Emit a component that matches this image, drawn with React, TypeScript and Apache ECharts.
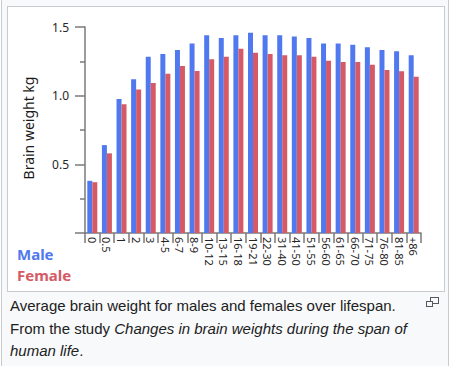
import React, { useEffect, useRef } from "react";
import * as echarts from "echarts";

const categories = ["0", "0.5", "1", "2", "3", "4-5", "6-7", "8-9", "10-12", "13-15", "16-18", "19-21", "22-30", "31-40", "41-50", "51-55", "56-60", "61-65", "66-70", "71-75", "76-80", "81-85", "+86"];
const maleValues = [0.38, 0.64, 0.976, 1.12, 1.284, 1.304, 1.333, 1.379, 1.44, 1.42, 1.44, 1.459, 1.44, 1.44, 1.43, 1.42, 1.38, 1.38, 1.371, 1.352, 1.333, 1.323, 1.294];
const femaleValues = [0.37, 0.58, 0.937, 1.044, 1.092, 1.16, 1.216, 1.18, 1.265, 1.284, 1.342, 1.313, 1.304, 1.294, 1.294, 1.284, 1.255, 1.245, 1.245, 1.226, 1.187, 1.178, 1.138];
const seriesNames = ["Male", "Female"];
const yAxisTitle = "Brain weight kg";
const captionLine1 = "Average brain weight for males and females over lifespan.";
const captionLine2Plain = "From the study ";
const captionLine2Italic = "Changes in brain weights during the span of";
const captionLine3Italic = "human life";

const BLUE = "#5079f0";
const RED = "#d55a66";
const AXIS = "#7a7a7a";
const FONT = "'Noto Sans', sans-serif";

export default function App() {
  const ref = useRef<HTMLDivElement>(null);

  useEffect(() => {
    if (!ref.current) return;
    const chart = echarts.init(ref.current, undefined, { renderer: "svg" });
    chart.setOption({
      animation: false,
      grid: { left: 85, right: 29, top: 27, bottom: 133, containLabel: false },
      xAxis: {
        type: "category",
        data: categories,
        axisLine: { lineStyle: { color: AXIS, width: 1.5 } },
        axisTick: { show: true, length: 10, alignWithLabel: false, lineStyle: { color: AXIS, width: 1.5 } },
        axisLabel: { rotate: -90, margin: 4, fontSize: 11, color: "#262626", fontFamily: FONT, interval: 0 },
      },
      yAxis: {
        type: "value",
        min: 0,
        max: 1.5,
        interval: 0.5,
        splitLine: { show: false },
        axisLine: { show: true, lineStyle: { color: AXIS, width: 1.5 } },
        axisTick: { show: true, length: 10, lineStyle: { color: AXIS, width: 1.5 } },
        minorTick: { show: true, splitNumber: 2, length: 5, lineStyle: { color: AXIS, width: 1.5 } },
        axisLabel: {
          margin: 16,
          fontSize: 12,
          color: "#262626",
          fontFamily: FONT,
          formatter: (v: number) => (v === 0 ? "" : v.toFixed(1)),
        },
      },
      series: [
        { name: seriesNames[0], type: "bar", data: maleValues, barWidth: 5, barGap: "0%", itemStyle: { color: BLUE } },
        { name: seriesNames[1], type: "bar", data: femaleValues, barWidth: 5, barGap: "0%", itemStyle: { color: RED } },
      ],
      graphic: [
        {
          type: "text",
          x: 28,
          y: 128,
          rotation: Math.PI / 2,
          style: { text: yAxisTitle, fontSize: 14, fontFamily: FONT, fill: "#1a1a1a", textAlign: "center", textVerticalAlign: "middle" },
        },
        {
          type: "text",
          x: 17,
          y: 253.5,
          style: { text: seriesNames[0], fontSize: 15, lineHeight: 15, fontWeight: "bold", fontFamily: FONT, fill: BLUE, textAlign: "left", textVerticalAlign: "middle" },
        },
        {
          type: "text",
          x: 17,
          y: 274.5,
          style: { text: seriesNames[1], fontSize: 15, lineHeight: 15, fontWeight: "bold", fontFamily: FONT, fill: RED, textAlign: "left", textVerticalAlign: "middle" },
        },
      ],
    });
    return () => chart.dispose();
  }, []);

  const captionStyle: React.CSSProperties = {
    position: "absolute",
    left: 10,
    top: 295,
    fontFamily: "'Liberation Sans', Arial, sans-serif",
    fontSize: 15,
    lineHeight: "22.5px",
    color: "#202122",
    whiteSpace: "nowrap",
  };

  return (
    <div style={{ position: "absolute", left: 0, top: 0, width: 450, height: 366, overflow: "hidden", background: "#fff" }}>
      <div style={{ position: "absolute", left: 1, top: -1, width: 446, height: 370, border: "1px solid #c8ccd1", background: "#f8f9fa" }} />
      <div style={{ position: "absolute", left: 7, top: 6, width: 436, height: 284, border: "1px solid #c8ccd1", background: "#fff" }} />
      <div ref={ref} style={{ position: "absolute", left: 0, top: 0, width: 450, height: 366 }} />
      <div style={captionStyle}>
        <div>{captionLine1}</div>
        <div>
          {captionLine2Plain}
          <i>{captionLine2Italic}</i>
        </div>
        <div>
          <i>{captionLine3Italic}</i>.
        </div>
      </div>
      <div style={{ position: "absolute", left: 430, top: 297, width: 7, height: 5, border: "1px solid #54595d" }} />
      <div style={{ position: "absolute", left: 426, top: 301, width: 5, height: 4, border: "1px solid #54595d", background: "#f8f9fa" }} />
    </div>
  );
}
